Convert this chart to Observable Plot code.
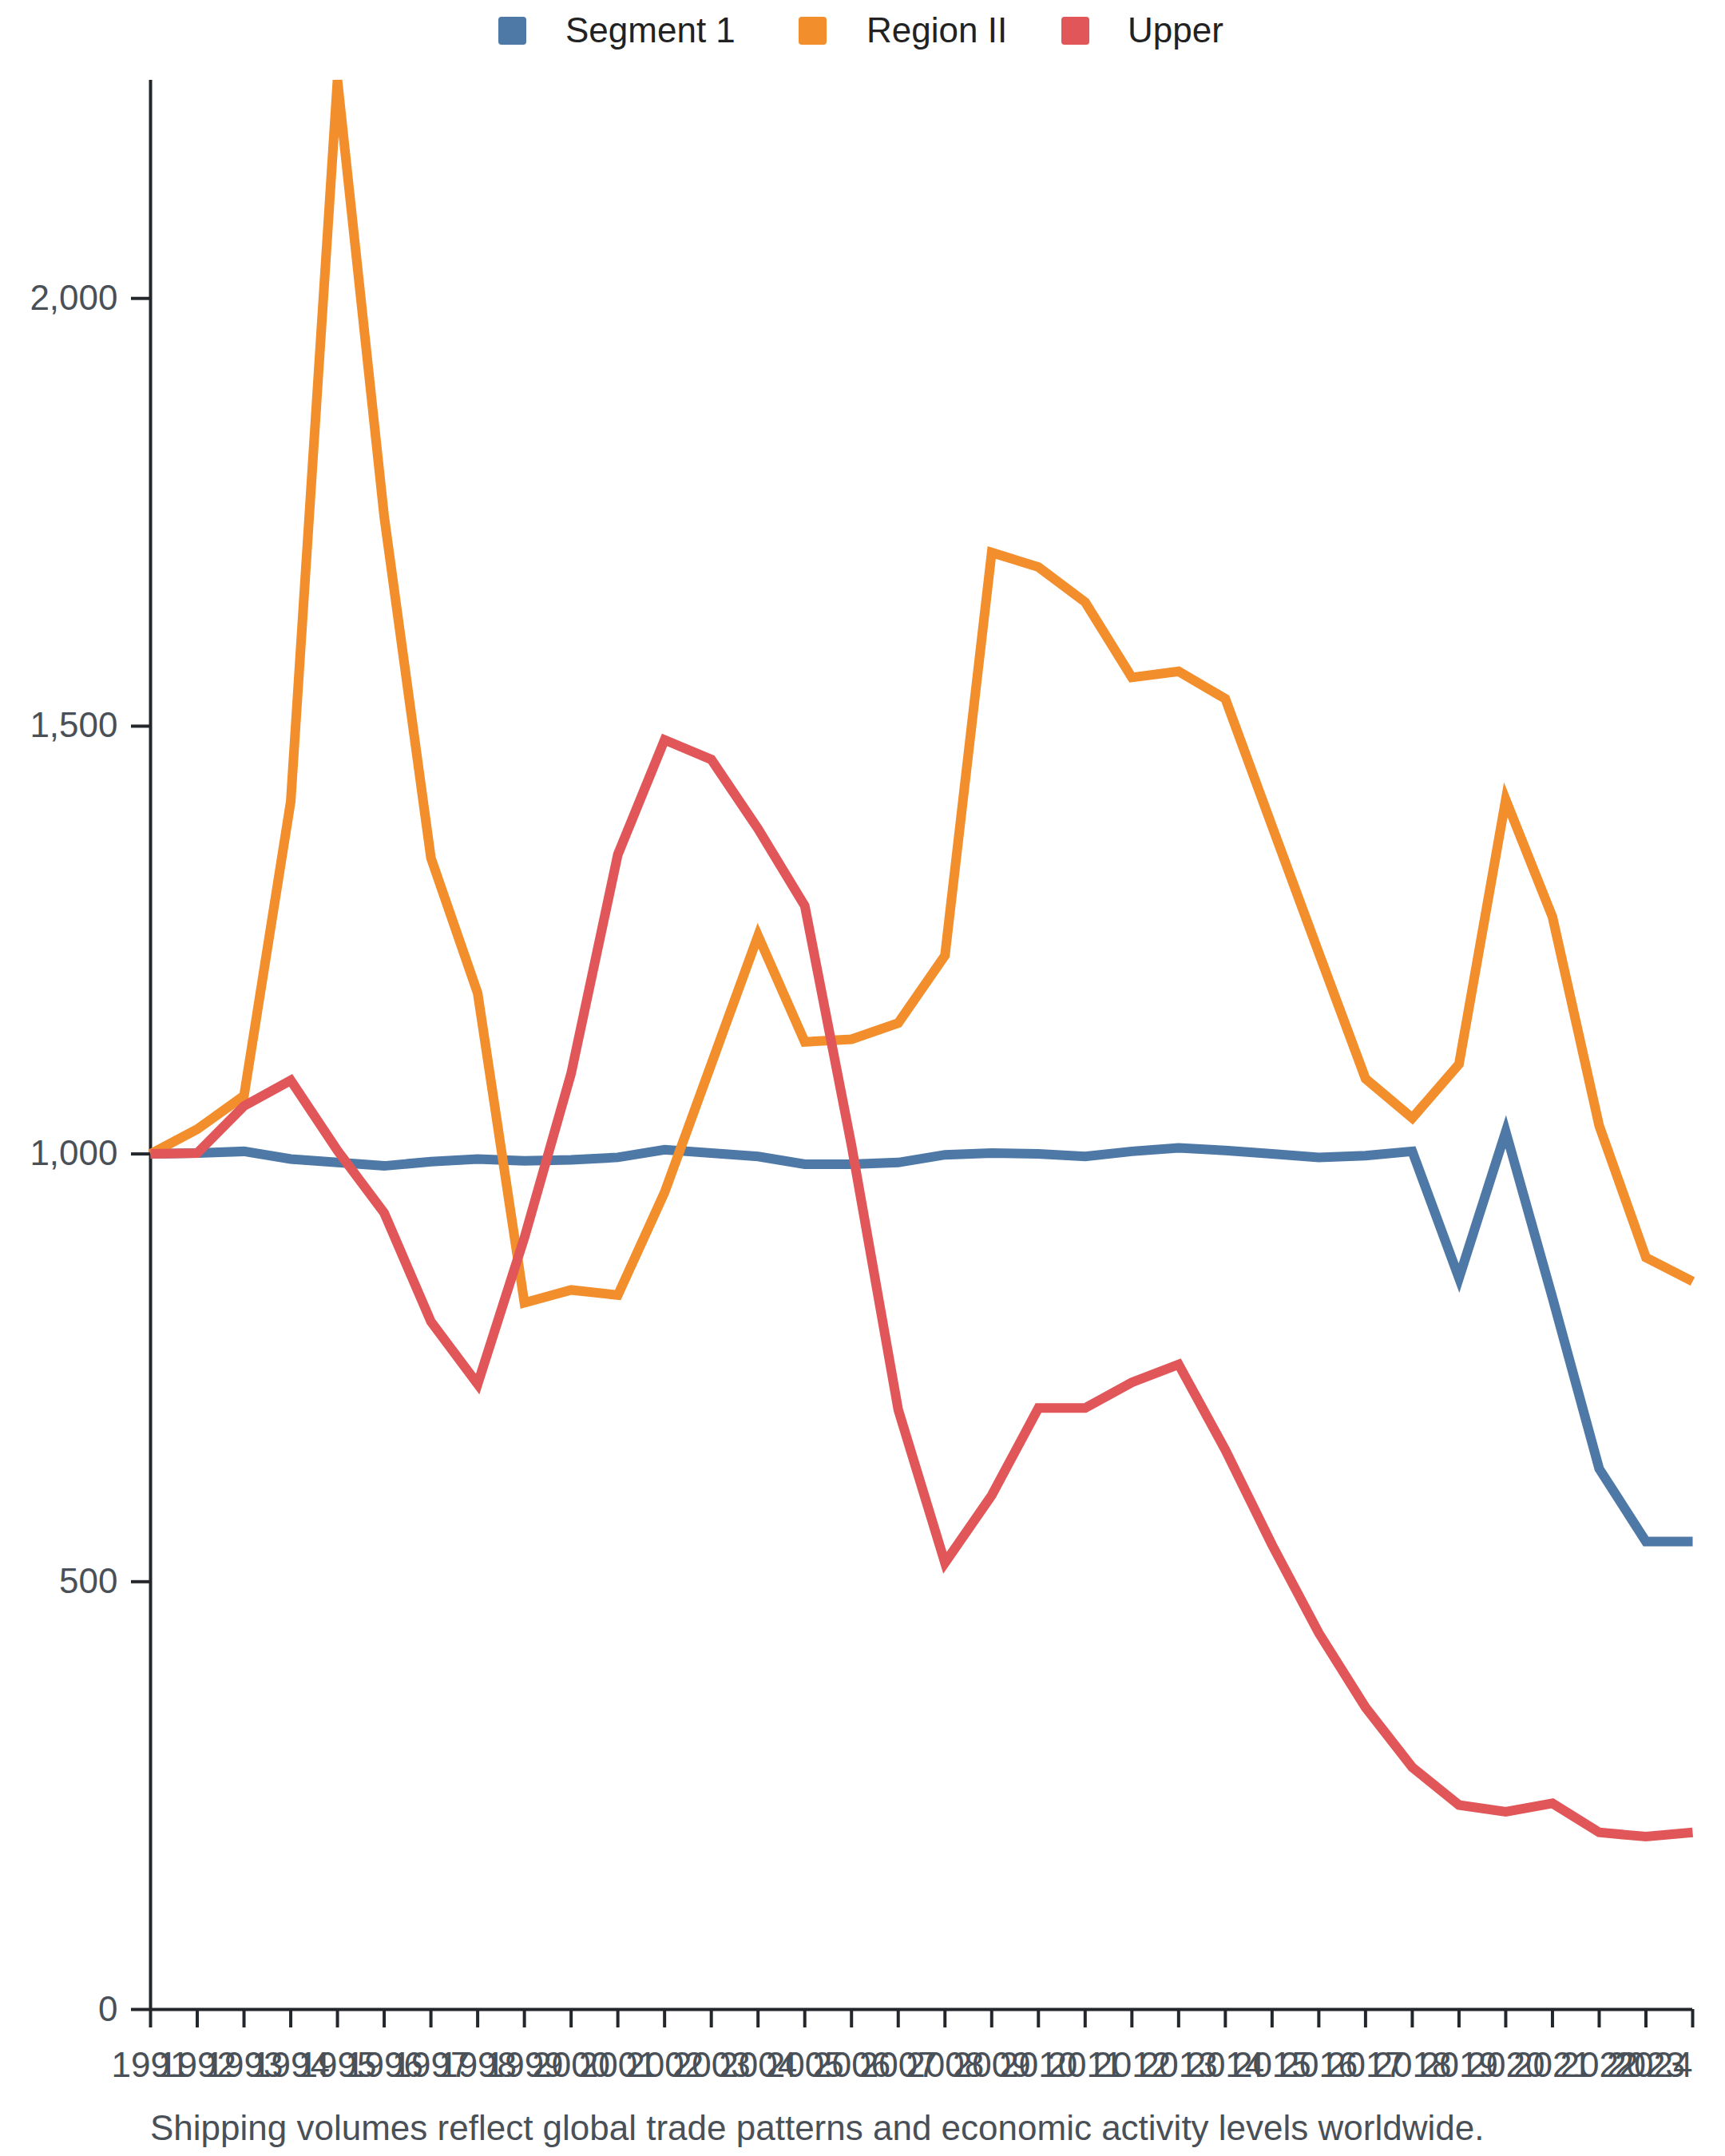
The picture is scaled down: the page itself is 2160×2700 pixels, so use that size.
<!DOCTYPE html>
<html><head><meta charset="utf-8">
<script src="https://cdn.jsdelivr.net/npm/d3@7"></script>
<script src="https://cdn.jsdelivr.net/npm/@observablehq/plot@0.6"></script>
<style>
html,body{margin:0;padding:0;background:#fff;}
body{width:2160px;height:2700px;position:relative;overflow:hidden;font-family:"Liberation Sans",Arial,sans-serif;}
#legend{position:absolute;top:0;left:0;width:2160px;height:76px;font-size:44px;color:#222;}
.sw{position:absolute;top:21px;width:35px;height:35px;border-radius:4px;}
.lab{position:absolute;top:16px;line-height:44px;white-space:nowrap;}
#chart{position:absolute;top:80px;left:0;}
#caption{position:absolute;left:188px;top:2643px;font-size:44px;line-height:44px;color:#4a5057;white-space:nowrap;}
</style></head><body>
<div id="legend"></div><div id="chart"></div><div id="caption"></div>
<script>
const years = [1991,1992,1993,1994,1995,1996,1997,1998,1999,2000,2001,2002,2003,2004,2005,2006,2007,2008,2009,2010,2011,2012,2013,2014,2015,2016,2017,2018,2019,2020,2021,2022,2023,2024];
const segment1 = [1000,1001,1003,994,990,986,991,994,992,993,996,1005,1001,997,988,988,990,999,1001,1000,997,1003,1007,1004,1000,996,998,1003,855,1026,832,632,547,547];
const regionII = [1000,1029,1068,1412,2255,1745,1346,1188,826,841,835,955,1105,1255,1131,1134,1153,1232,1703,1686,1645,1557,1564,1532,1383,1235,1088,1042,1105,1414,1277,1033,879,851];
const upper = [1000,1001,1056,1086,1004,931,804,731,902,1094,1350,1484,1461,1380,1290,1010,701,522,601,703,703,733,754,654,543,440,353,283,239,231,241,207,202,207];
const seriesNames = ["Segment 1","Region II","Upper"];
const seriesColors = ["#4e79a7","#f28e2b","#e15759"];
const yTicks = [0,500,1000,1500,2000];
const captionText = "Shipping volumes reflect global trade patterns and economic activity levels worldwide.";

const axisColor = "#23272b";
const labelColor = "#4a5057";
const font = '"Liberation Sans", Arial, sans-serif';
const legendSwatchLeft = [624, 1000, 1329];
const legendTextLeft = [708, 1085, 1412];

const seriesValues = [segment1, regionII, upper];
const data = [];
seriesValues.forEach((vals, si) => vals.forEach((v, i) => data.push({year: years[i], value: v, series: seriesNames[si]})));
const yMax = d3.max(data, d => d.value);

const legend = document.getElementById("legend");
seriesNames.forEach((name, i) => {
  const sw = document.createElement("div");
  sw.className = "sw";
  sw.style.background = seriesColors[i];
  sw.style.left = legendSwatchLeft[i] + "px";
  const label = document.createElement("div");
  label.className = "lab";
  label.style.left = legendTextLeft[i] + "px";
  label.textContent = name;
  legend.appendChild(sw);
  legend.appendChild(label);
});

const axisOpts = {stroke: axisColor, strokeWidth: 4, fill: labelColor, fontSize: 44, label: null};
const fmtY = d3.format(",.0f");
const fmtX = d => String(d);

const chart = Plot.plot({
  width: 2160,
  height: 2540,
  marginTop: 20,
  marginLeft: 188,
  marginRight: 41,
  marginBottom: 104,
  style: {fontFamily: font, fontSize: "44px", background: "#fff", overflow: "visible"},
  x: {domain: [years[0], years[years.length - 1]], axis: null, label: null},
  y: {domain: [0, yMax], axis: null, label: null},
  color: {domain: seriesNames, range: seriesColors},
  marks: [
    Plot.axisY({...axisOpts, ticks: yTicks, tickSize: 24, tickPadding: 17, tickFormat: fmtY}),
    Plot.axisX({...axisOpts, ticks: years.slice(0, -1), tickSize: 23, tickPadding: 30, tickFormat: fmtX}),
    Plot.axisX({...axisOpts, ticks: years.slice(-1), tickSize: 23, tickPadding: 30, tickFormat: fmtX, textAnchor: "end"}),
    Plot.ruleY([0], {stroke: axisColor, strokeWidth: 4}),
    Plot.ruleX([years[0]], {stroke: axisColor, strokeWidth: 4}),
    Plot.line(data, {x: "year", y: "value", z: "series", stroke: "series", strokeWidth: 12, strokeLinejoin: "miter", strokeLinecap: "butt", strokeMiterlimit: 4})
  ]
});
document.getElementById("chart").appendChild(chart);
document.getElementById("caption").textContent = captionText;
</script>
</body></html>
